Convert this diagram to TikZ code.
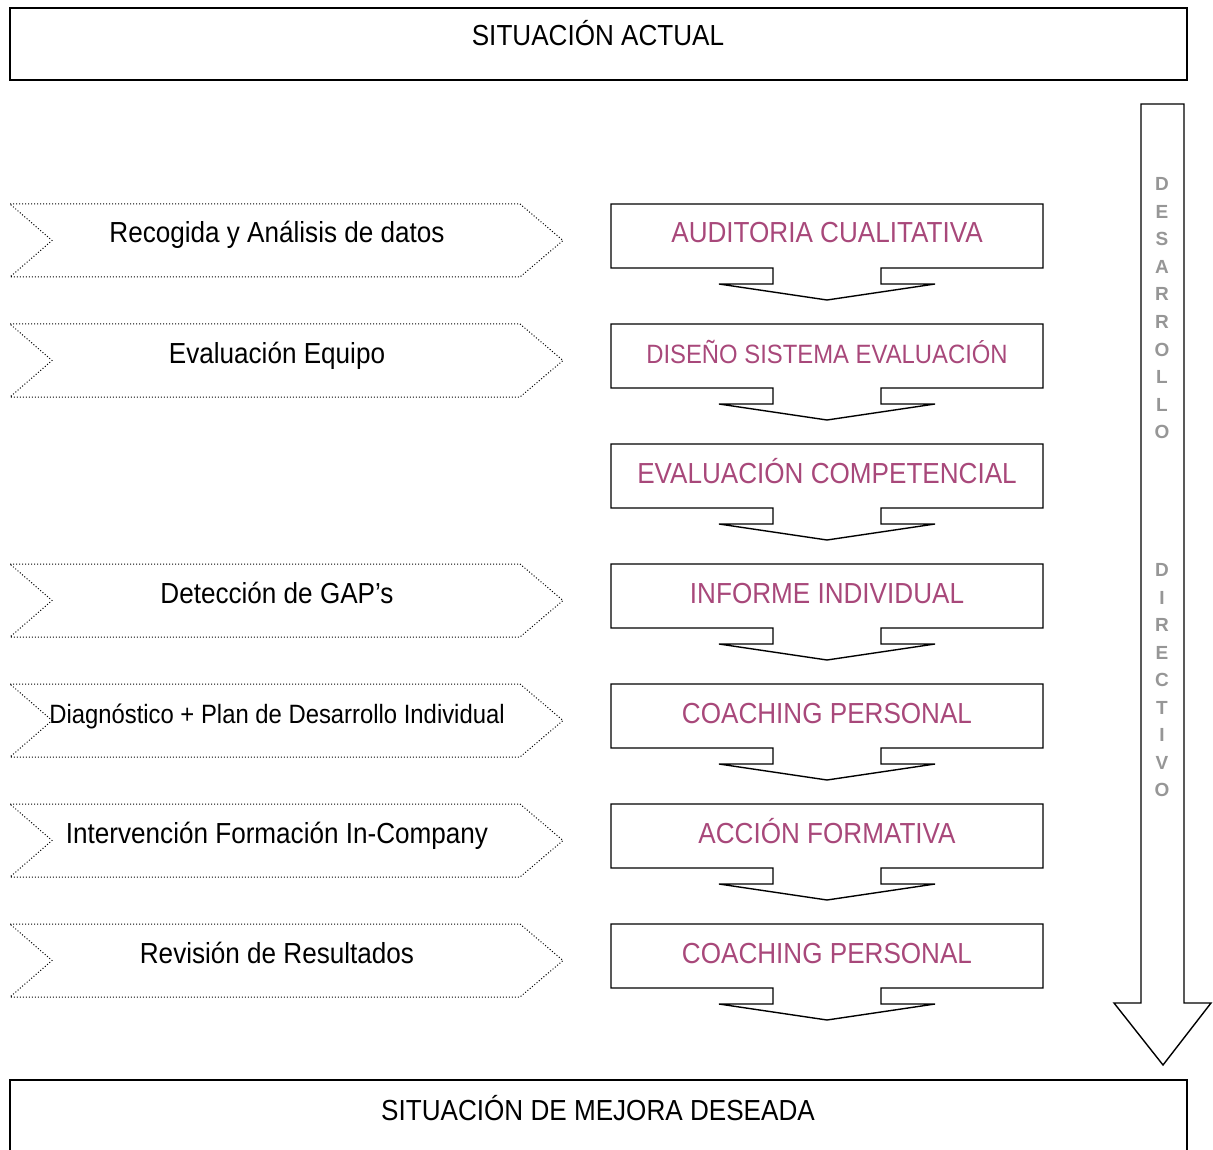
\documentclass[tikz,border=0pt]{standalone}
\usepackage{fontspec}
\setmainfont[FakeStretch=0.9]{Liberation Sans}
\newfontfamily\letrafont{Liberation Sans Bold}
\definecolor{rosa}{RGB}{168,72,122}
\definecolor{gris}{RGB}{150,150,150}

\begin{document}
\begin{tikzpicture}[x=1pt,y=-1pt,
    marco/.style={black, line width=1.6pt},
    flecha/.style={black, line width=1.4pt, line join=miter},
    chevron/.style={black, line width=1pt, dotted},
    texto/.style={anchor=base, inner sep=0pt, font=\fontsize{29}{32}\selectfont},
    letra/.style={gris, inner sep=0pt, font=\letrafont\fontsize{19}{22}\selectfont}]
    \useasboundingbox (0,0) rectangle (1213,1150);

    % situaciones inicial y final
    \draw[marco] (10,8) rectangle (1187,80);
    \node[texto] (actual) at (598,46) {SITUACIÓN ACTUAL};
    \draw[marco] (10,1150) -- (10,1080) -- (1187,1080) -- (1187,1150);
    \node[texto] (deseada) at (598,1120) {SITUACIÓN DE MEJORA DESEADA};

    % fases de la izquierda
    \foreach \t/\tam/\txt [count=\i] in {204/29/Recogida y Análisis de datos,
            324/29/Evaluación Equipo,
            564/29/Detección de GAP’s,
            684/26.5/Diagnóstico + Plan de Desarrollo Individual,
            804/29/Intervención Formación In-Company,
            924/29/Revisión de Resultados}{
        \draw[chevron] (10,\t) -- ++(510,0) -- ++(43,36.5) -- ++(-43,36.5)
            -- ++(-510,0) -- ++(42,-36.5) -- cycle;
        \node[texto, font=\fontsize{\tam}{\tam}\selectfont] (fase\i) at (277,\t+39) {\txt};
    }

    % acciones de la derecha
    \foreach \t/\tam/\txt [count=\i] in {204/29/AUDITORIA CUALITATIVA,
            324/26.5/DISEÑO SISTEMA EVALUACIÓN,
            444/29/EVALUACIÓN COMPETENCIAL,
            564/29/INFORME INDIVIDUAL,
            684/29/COACHING PERSONAL,
            804/29/ACCIÓN FORMATIVA,
            924/29/COACHING PERSONAL}{
        \draw[flecha] (611,\t) -- ++(432,0) -- ++(0,64) -- ++(-162,0) -- ++(0,16)
            -- ++(54,0) -- ++(-108,16) -- ++(-108,-16) -- ++(54,0) -- ++(0,-16)
            -- ++(-162,0) -- cycle;
        \node[texto, rosa, font=\fontsize{\tam}{\tam}\selectfont] (accion\i) at (827,\t+39) {\txt};
    }

    % flecha de desarrollo directivo
    \draw[flecha] (1141,104) -- (1184,104) -- (1184,1003) -- (1211,1003)
        -- (1163,1065) -- (1114,1003) -- (1141,1003) -- cycle;
    \foreach \l [count=\i from 0] in {D,E,S,A,R,R,O,L,L,O}
        \node[letra] (des\i) at (1162,{184+27.6*\i}) {\l};
    \foreach \l [count=\i from 0] in {D,I,R,E,C,T,I,V,O}
        \node[letra] (dir\i) at (1162,{570+27.5*\i}) {\l};
\end{tikzpicture}
\end{document}
